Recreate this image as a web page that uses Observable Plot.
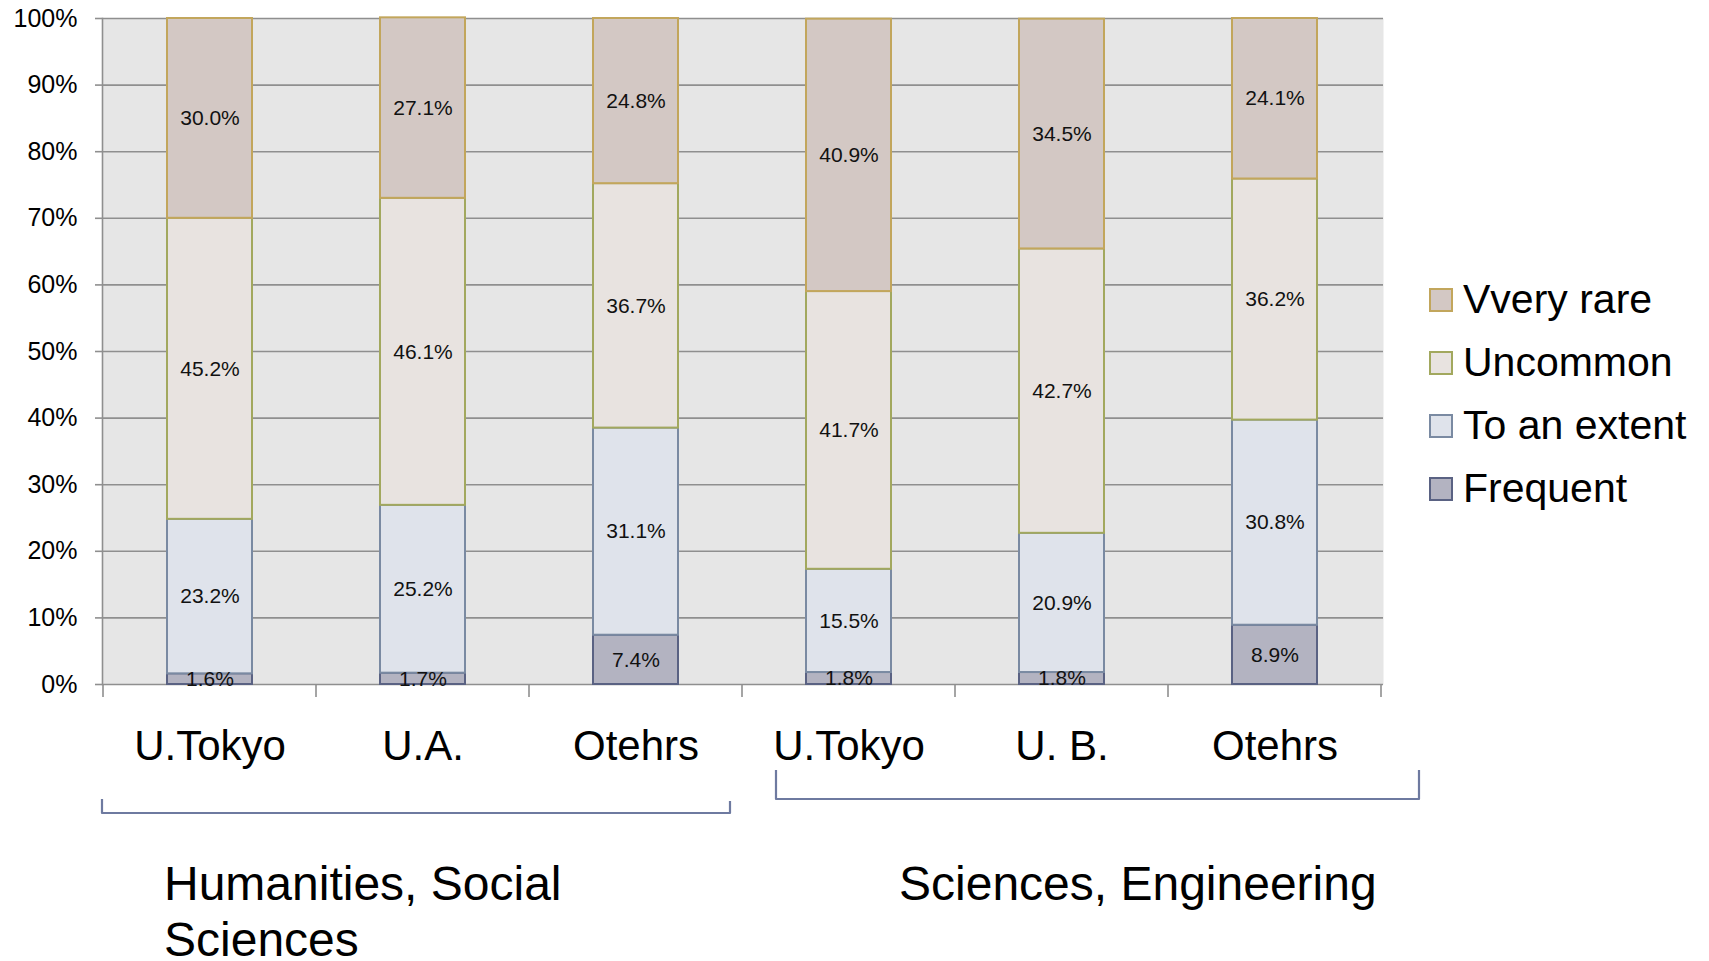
<!DOCTYPE html>
<html>
<head>
<meta charset="utf-8">
<script src="https://cdn.jsdelivr.net/npm/d3@7"></script>
<script src="https://cdn.jsdelivr.net/npm/@observablehq/plot@0.6"></script>
<style>
  html, body { margin: 0; padding: 0; background: #fff; }
  body { font-family: "Liberation Sans", Arial, sans-serif; }
  #wrap { position: relative; width: 1709px; height: 961px; overflow: hidden; }
  #wrap svg { position: absolute; left: 0; top: 0; }
  .legend { position: absolute; left: 1429px; top: 268px; }
  .legend .row { height: 63px; display: flex; align-items: center; font-size: 41px; color: #000; white-space: nowrap; }
  .legend .sw { width: 20px; height: 20px; border: 2px solid; margin-right: 10px; }
  .group { position: absolute; font-size: 48px; line-height: 56px; color: #000; }
</style>
</head>
<body>
<div id="wrap"></div>
<script>
// ---- data ----
const categories = ["U.Tokyo", "U.A.", "Otehrs", "U.Tokyo", "U. B.", "Otehrs"];
const groups = ["Humanities, Social Sciences", "Sciences, Engineering"];
const series = ["Frequent", "To an extent", "Uncommon", "Vvery rare"];
const frequent = [1.6, 1.7, 7.4, 1.8, 1.8, 8.9];
const toAnExtent = [23.2, 25.2, 31.1, 15.5, 20.9, 30.8];
const uncommon = [45.2, 46.1, 36.7, 41.7, 42.7, 36.2];
const veryRare = [30.0, 27.1, 24.8, 40.9, 34.5, 24.1];
const yTicks = [0, 10, 20, 30, 40, 50, 60, 70, 80, 90, 100];
const legendOrder = ["Vvery rare", "Uncommon", "To an extent", "Frequent"];

// ---- styles ----
const fillColors = {"Frequent": "#b3b3c1", "To an extent": "#dfe3eb", "Uncommon": "#e8e3e0", "Vvery rare": "#d3c8c4"};
const strokeColors = {"Frequent": "#5a6283", "To an extent": "#7a8aa2", "Uncommon": "#a2a85e", "Vvery rare": "#c2a65c"};
const gridColor = "#8f8f8f";
const bracketColor = "#6e7aa0";

const valuesBySeries = [frequent, toAnExtent, uncommon, veryRare];
const data = [];
series.forEach((s, k) => valuesBySeries[k].forEach((v, i) => data.push({i, series: s, value: v})));

const W = 1709, H = 961;
const plot = Plot.plot({
  width: W, height: H,
  marginLeft: 102, marginRight: 326, marginTop: 18, marginBottom: 277,
  style: {fontFamily: "'Liberation Sans', Arial, sans-serif", background: "transparent"},
  x: {domain: d3.range(categories.length), paddingInner: 0.6, paddingOuter: 0.3, axis: null, label: null},
  y: {domain: [0, 100], axis: null, label: null},
  color: {type: "identity"},
  marks: [
    Plot.frame({fill: "#e6e6e6", stroke: null}),
    Plot.ruleY(yTicks, {stroke: gridColor, strokeWidth: 1.6}),
    Plot.frame({anchor: "left", stroke: gridColor, strokeWidth: 1.6}),
    Plot.barY(data, Plot.stackY({
      x: "i", y: "value", z: "series",
      fill: d => fillColors[d.series], stroke: d => strokeColors[d.series], strokeWidth: 2
    })),
    Plot.text(data, Plot.stackY({
      x: "i", y: "value", z: "series",
      text: d => d.value.toFixed(1) + "%", fontSize: 21, fill: "#111"
    })),
    Plot.axisY({ticks: yTicks, tickFormat: d => d + "%", tickSize: 7, tickPadding: 18, fontSize: 25, stroke: gridColor, strokeWidth: 1.6, fill: "#000", label: null}),
    Plot.axisX({tickSize: 0, tickPadding: 46, fontSize: 42, fill: "#000", tickFormat: i => categories[i], label: null})
  ]
});

const wrap = document.getElementById("wrap");
wrap.appendChild(plot);

// category boundary ticks and group brackets, positioned from the x/y scales
const xs = plot.scale("x"), ys = plot.scale("y");
const step = xs.step, bw = xs.bandwidth;
const x0 = xs.apply(0) - (step - bw) / 2;
const bounds = d3.range(categories.length + 1).map(k => x0 + k * step);
const yBase = ys.apply(0);
const svg = d3.select(plot);
svg.append("g").selectAll("line").data(bounds).join("line")
  .attr("x1", d => d).attr("x2", d => d)
  .attr("y1", yBase).attr("y2", yBase + 13)
  .attr("stroke", gridColor).attr("stroke-width", 1.6);

const g = svg.append("g").attr("fill", "none").attr("stroke", bracketColor)
  .attr("stroke-width", 2.2).attr("stroke-linejoin", "round");
// Humanities bracket (under first three bars)
{
  const a = bounds[0] - 1, b = bounds[3] - 12, yb = yBase + 129, yt = yBase + 115;
  g.append("path").attr("d", `M${a},${yt}V${yb}H${b}V${yt + 2}`);
}
// Sciences bracket (under last three bars)
{
  const a = bounds[3] + 34, b = bounds[6] + 38, yb = yBase + 115, yt = yBase + 86;
  g.append("path").attr("d", `M${a},${yt}V${yb}H${b}V${yt}`);
}

// legend
const legend = document.createElement("div");
legend.className = "legend";
legendOrder.forEach(s => {
  const row = document.createElement("div");
  row.className = "row";
  const sw = document.createElement("div");
  sw.className = "sw";
  sw.style.background = fillColors[s];
  sw.style.borderColor = strokeColors[s];
  row.appendChild(sw);
  row.appendChild(document.createTextNode(s));
  legend.appendChild(row);
});
wrap.appendChild(legend);

// group labels
const g1 = document.createElement("div");
g1.className = "group";
g1.style.left = "164px"; g1.style.top = "856px"; g1.style.width = "440px";
g1.textContent = groups[0];
wrap.appendChild(g1);
const g2 = document.createElement("div");
g2.className = "group";
g2.style.left = "899px"; g2.style.top = "856px";
g2.style.whiteSpace = "nowrap";
g2.textContent = groups[1];
wrap.appendChild(g2);
</script>
</body>
</html>
